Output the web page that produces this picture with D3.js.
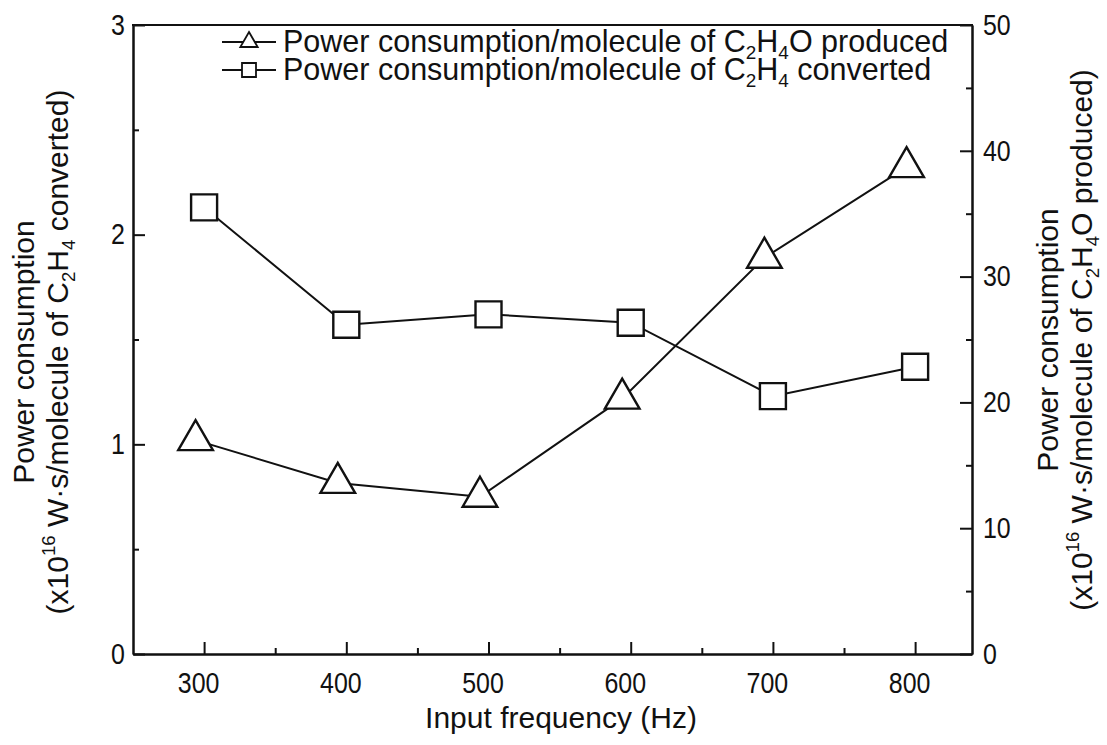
<!DOCTYPE html>
<html>
<head>
<meta charset="utf-8">
<script src="https://cdn.jsdelivr.net/npm/d3@7"></script>
<style>
  body { margin: 0; background: #fff; }
  svg { display: block; }
  text { font-family: "Liberation Sans", Arial, Helvetica, sans-serif; fill: #111; }
</style>
</head>
<body>
<svg id="chart" width="1107" height="745"></svg>
<script>
// Input frequency (Hz) for each measurement
const frequencies = [300, 400, 500, 600, 700, 800];
// the C2H4O series is plotted slightly left of each frequency
const producedFrequencies = [294, 394, 494, 594, 694, 794];
// Power consumption per molecule of C2H4 converted (x10^16 W·s), left axis
const convertedValues = [2.13, 1.57, 1.62, 1.58, 1.23, 1.37];
// Power consumption per molecule of C2H4O produced (x10^16 W·s), right axis
const producedValues = [17.0, 13.6, 12.5, 20.3, 31.5, 38.7];

const xTicks = [300, 400, 500, 600, 700, 800];
const xMinorTicks = [350, 450, 550, 650, 750];
const leftTicks = [0, 1, 2, 3];
const leftMinorTicks = [0.5, 1.5, 2.5];
const rightTicks = [0, 10, 20, 30, 40, 50];
const rightMinorTicks = [5, 15, 25, 35, 45];

const plot = { left: 133, right: 972, top: 25, bottom: 654 };

const svg = d3.select("#chart");

const x = d3.scaleLinear().domain([250, 840]).range([plot.left, plot.right]);
const yL = d3.scaleLinear().domain([0, 3]).range([plot.bottom, plot.top]);
const yR = d3.scaleLinear().domain([0, 50]).range([plot.bottom, plot.top]);

const tickFont = 29;
const ink = "#111";

// axis styling; tick numbers are drawn slightly condensed
function styleAxis(g) {
  g.selectAll("path.domain").attr("stroke", ink).attr("stroke-width", 2);
  g.selectAll(".tick line").attr("stroke", ink).attr("stroke-width", 2);
  g.selectAll(".tick text")
    .attr("font-size", tickFont).attr("fill", ink)
    .attr("font-family", "'Liberation Sans', Arial, Helvetica, sans-serif")
    .each(function () {
      const len = this.getComputedTextLength();
      if (len > 0) d3.select(this).attr("textLength", len * 0.86).attr("lengthAdjust", "spacingAndGlyphs");
    });
}

// bottom axis (ticks point inward)
svg.append("g").attr("transform", `translate(0,${plot.bottom})`)
  .call(d3.axisBottom(x).tickValues(xTicks).tickSize(-12).tickSizeOuter(0).tickPadding(18).tickFormat(d3.format("d")))
  .call(styleAxis)
  .call(g => g.selectAll(".tick text").attr("dx", -6));
svg.append("g").attr("transform", `translate(0,${plot.bottom})`)
  .call(d3.axisBottom(x).tickValues(xMinorTicks).tickSize(-6).tickSizeOuter(0).tickFormat(""))
  .call(styleAxis);

// left axis
svg.append("g").attr("transform", `translate(${plot.left},0)`)
  .call(d3.axisLeft(yL).tickValues(leftTicks).tickSize(-12).tickSizeOuter(0).tickPadding(8).tickFormat(d3.format("d")))
  .call(styleAxis);
svg.append("g").attr("transform", `translate(${plot.left},0)`)
  .call(d3.axisLeft(yL).tickValues(leftMinorTicks).tickSize(-6).tickSizeOuter(0).tickFormat(""))
  .call(styleAxis);

// right axis
svg.append("g").attr("transform", `translate(${plot.right},0)`)
  .call(d3.axisRight(yR).tickValues(rightTicks).tickSize(-12).tickSizeOuter(0).tickPadding(11).tickFormat(d3.format("d")))
  .call(styleAxis);
svg.append("g").attr("transform", `translate(${plot.right},0)`)
  .call(d3.axisRight(yR).tickValues(rightMinorTicks).tickSize(-6).tickSizeOuter(0).tickFormat(""))
  .call(styleAxis);

// top frame
svg.append("line")
  .attr("x1", plot.left - 1).attr("x2", plot.right + 1)
  .attr("y1", plot.top).attr("y2", plot.top)
  .attr("stroke", ink).attr("stroke-width", 2);

// series lines
const convertedPts = frequencies.map((f, i) => [x(f), yL(convertedValues[i])]);
const producedPts = producedFrequencies.map((f, i) => [x(f), yR(producedValues[i])]);
const line = d3.line();

svg.append("path").attr("d", line(convertedPts))
  .attr("fill", "none").attr("stroke", ink).attr("stroke-width", 2);
svg.append("path").attr("d", line(producedPts))
  .attr("fill", "none").attr("stroke", ink).attr("stroke-width", 2);

const squareSym = d3.symbol().type(d3.symbolSquare).size(26 * 26);
const triSym = d3.symbol().type(d3.symbolTriangle).size(520);

svg.selectAll("path.sq").data(convertedPts).join("path")
  .attr("class", "sq")
  .attr("d", squareSym)
  .attr("transform", d => `translate(${d[0]},${d[1]})`)
  .attr("fill", "#fff").attr("stroke", ink).attr("stroke-width", 2.4);

svg.selectAll("path.tri").data(producedPts).join("path")
  .attr("class", "tri")
  .attr("d", triSym)
  .attr("transform", d => `translate(${d[0]},${d[1]})`)
  .attr("fill", "#fff").attr("stroke", ink).attr("stroke-width", 2.4);

// rich text helper: segments of [text, kind] with kind "", "sub" or "sup"
function rich(textSel, segs, subShift = 0.3) {
  let shift = 0;
  segs.forEach(([t, kind]) => {
    const target = kind === "sub" ? subShift : kind === "sup" ? -0.45 : 0;
    const ts = textSel.append("tspan").text(t).attr("dy", (target - shift) + "em");
    if (kind) ts.attr("font-size", "0.62em").attr("dy", ((target - shift) / 0.62) + "em");
    shift = target;
  });
}

// legend
const legendFont = 30.5;
const legendRows = [
  { sym: d3.symbol().type(d3.symbolTriangle).size(130), y: 42,
    segs: [["Power consumption/molecule of C", ""], ["2", "sub"], ["H", ""], ["4", "sub"], ["O produced", ""]] },
  { sym: d3.symbol().type(d3.symbolSquare).size(14 * 14), y: 70,
    segs: [["Power consumption/molecule of C", ""], ["2", "sub"], ["H", ""], ["4", "sub"], [" converted", ""]] }
];
legendRows.forEach(r => {
  const g = svg.append("g");
  g.append("line").attr("x1", 222).attr("x2", 276).attr("y1", r.y).attr("y2", r.y)
    .attr("stroke", ink).attr("stroke-width", 2);
  g.append("path").attr("d", r.sym())
    .attr("transform", `translate(249,${r.y})`)
    .attr("fill", "#fff").attr("stroke", ink).attr("stroke-width", 1.8);
  const t = g.append("text").attr("x", 283).attr("y", r.y + 10).attr("font-size", legendFont);
  rich(t, r.segs, 0.22);
});

// axis titles
const titleFont = 30;
svg.append("text").attr("x", 561).attr("y", 728)
  .attr("text-anchor", "middle").attr("font-size", titleFont).text("Input frequency (Hz)");

function vTitle(cx, cy, segs) {
  const t = svg.append("text")
    .attr("transform", `translate(${cx},${cy}) rotate(-90)`)
    .attr("text-anchor", "middle").attr("font-size", titleFont);
  rich(t, segs, 0.22);
}
vTitle(34, 352, [["Power consumption", ""]]);
vTitle(68, 352, [["(x10", ""], ["16", "sup"], [" W·s/molecule of C", ""], ["2", "sub"], ["H", ""], ["4", "sub"], [" converted)", ""]]);
vTitle(1058, 340, [["Power consumption", ""]]);
vTitle(1092, 340, [["(x10", ""], ["16", "sup"], [" W·s/molecule of C", ""], ["2", "sub"], ["H", ""], ["4", "sub"], ["O produced)", ""]]);
</script>
</body>
</html>
